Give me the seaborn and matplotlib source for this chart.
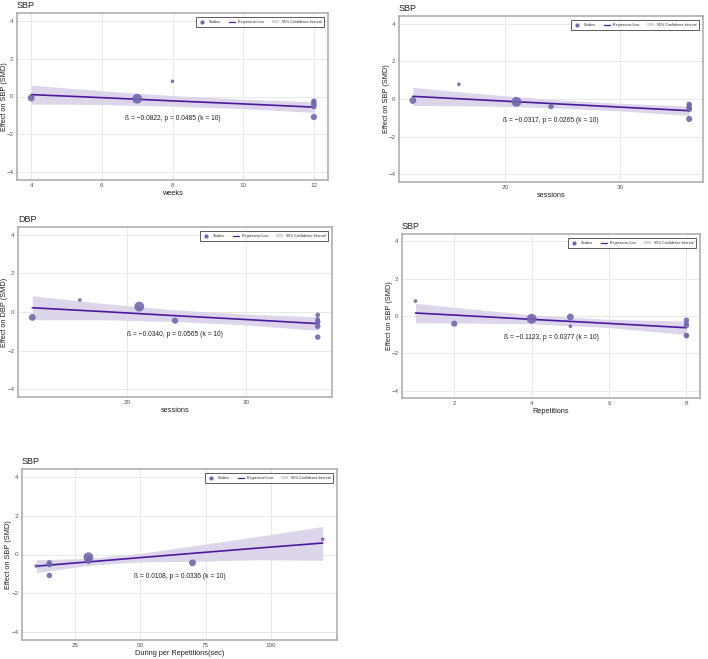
"""
Meta-regression panels: effect on blood pressure vs. training parameters
"""
import matplotlib
matplotlib.use("Agg")
import matplotlib.pyplot as plt
from matplotlib.lines import Line2D
from matplotlib.patches import Patch
import pandas as pd
import seaborn as sns

# ---------------------------------------------------------------------------
# data
# ---------------------------------------------------------------------------
# panel 1: weeks (SBP)
weeks_x = [4, 7, 8, 12, 12, 12, 12, 12, 12, 12]
weeks_y = [-0.08, -0.12, 0.80, -0.25, -0.32, -0.40, -0.45, -0.50, -0.55, -1.08]
weeks_w = [3, 6, 1, 2, 1.5, 2, 1.5, 2, 1.5, 2.5]
weeks_ci_x = [4, 6, 8, 10, 12]
weeks_fit = [0.10, -0.06, -0.23, -0.39, -0.56]
weeks_lo = [-0.40, -0.42, -0.51, -0.64, -0.84]
weeks_hi = [0.60, 0.30, 0.05, -0.14, -0.28]

# panel 2: sessions (SBP)
sess_x = [12, 16, 21, 24, 36, 36, 36, 36, 36, 36]
sess_y = [-0.08, 0.78, -0.15, -0.40, -0.28, -0.35, -0.45, -0.50, -0.55, -1.06]
sess_w = [3, 1, 6, 2, 2, 1.5, 2, 1.5, 2, 2.5]
sess_ci_x = [12, 18, 24, 30, 36]
sess_fit = [0.14, -0.05, -0.24, -0.43, -0.62]
sess_lo = [-0.34, -0.37, -0.46, -0.63, -0.87]
sess_hi = [0.62, 0.27, -0.02, -0.23, -0.37]

# panel 3: sessions (DBP)
dbp_x = [12, 16, 21, 24, 36, 36, 36, 36, 36, 36]
dbp_y = [-0.28, 0.62, 0.28, -0.45, -0.15, -0.38, -0.50, -0.60, -0.75, -1.30]
dbp_w = [3, 1, 6, 2.5, 1.5, 1.5, 2, 1.5, 2, 2]
dbp_ci_x = [12, 18, 24, 30, 36]
dbp_fit = [0.22, 0.02, -0.19, -0.39, -0.60]
dbp_lo = [-0.40, -0.40, -0.49, -0.67, -0.95]
dbp_hi = [0.84, 0.44, 0.11, -0.11, -0.25]

# panel 4: repetitions (SBP)
reps_x = [1, 2, 4, 5, 5, 8, 8, 8, 8, 8]
reps_y = [0.80, -0.41, -0.15, -0.05, -0.55, -0.23, -0.40, -0.50, -1.04, -1.08]
reps_w = [1, 2.5, 6, 3, 1, 2, 1.5, 2, 2, 1.5]
reps_ci_x = [1, 2, 4, 6, 8]
reps_fit = [0.16, 0.05, -0.18, -0.40, -0.63]
reps_lo = [-0.36, -0.37, -0.42, -0.62, -0.99]
reps_hi = [0.68, 0.47, 0.06, -0.18, -0.27]

# panel 5: duration per repetition (SBP)
dur_x = [10, 15, 15, 15, 30, 30, 30, 30, 70, 120]
dur_y = [-0.59, -0.43, -0.52, -1.08, -0.14, -0.22, -0.30, -0.35, -0.43, 0.78]
dur_w = [1, 2, 2, 2, 6, 2, 2, 2, 3, 1]
dur_ci_x = [10, 30, 50, 70, 95, 120]
dur_fit = [-0.60, -0.38, -0.16, 0.06, 0.33, 0.59]
dur_lo = [-0.93, -0.56, -0.38, -0.35, -0.27, -0.30]
dur_hi = [-0.27, -0.20, 0.06, 0.44, 0.93, 1.44]

betas = [-0.0822, -0.0317, -0.0340, -0.1123, 0.0108]
pvals = [0.0485, 0.0265, 0.0565, 0.0377, 0.0336]
k_studies = 10

POINT_C = "#6f68ad"
LINE_C = "#4b1a9c"
BAND_C = "#ddd5ea"

sns.set_theme(style="whitegrid")
plt.rcParams["font.family"] = ["Liberation Sans", "DejaVu Sans"]
plt.rcParams["axes.unicode_minus"] = True

W, H = 708, 659


def draw_panel(ax, x, y, w, ci_x, fit, lo, hi, title, xlabel, ylabel, beta, p):
    df = pd.DataFrame({"x": x, "y": y, "w": w})
    ax.fill_between(ci_x, lo, hi, color=BAND_C, lw=0, zorder=1)
    sns.lineplot(x=ci_x, y=fit, ax=ax, color=LINE_C, lw=1.2, zorder=2)
    sns.scatterplot(data=df, x="x", y="y", size="w", sizes=(7, 50),
                    size_norm=(1, 6), color=POINT_C, alpha=0.9,
                    edgecolor="none", legend=False, ax=ax, zorder=3)

    ax.set_ylim(-4.4, 4.4)
    ax.set_yticks([-4, -2, 0, 2, 4])
    ax.tick_params(labelsize=4.5, colors="#555555", pad=2.5, length=0)
    ax.grid(color="#e8e8e8", lw=0.7)
    for s in ax.spines.values():
        s.set_color("#a8a8a8")
        s.set_linewidth(1.1)

    # axes size in pixels, to place labels at fixed pixel offsets
    bb = ax.get_position()
    wpx, hpx = bb.width * W, bb.height * H

    ax.set_title(title, loc="left", fontsize=6.5, pad=3.8, color="#222222")
    ax.set_xlabel(xlabel, fontsize=5.3, color="#222222", va="center")
    ax.set_ylabel(ylabel, fontsize=5.3, color="#222222", va="center")
    ax.xaxis.set_label_coords(0.5, -13.5 / hpx)
    ax.yaxis.set_label_coords(-13 / wpx, 0.5)

    txt = f"ß = {beta:.4f}, p = {p:.4f} (k = {k_studies})".replace("-", "\u2212")
    ax.text(0.5, 0.37, txt, transform=ax.transAxes, ha="center", va="center",
            fontsize=4.75, color="#222222")

    handles = [
        Line2D([], [], marker="o", ls="none", color=POINT_C, markersize=2),
        Line2D([], [], color=LINE_C, lw=0.9),
        Patch(facecolor=BAND_C, edgecolor="none"),
    ]
    leg = ax.legend(handles, ["Studies", "Regression Line", "95% Confidence Interval"],
                    loc="upper right", ncol=3, fontsize=2.6, frameon=True,
                    fancybox=False, handlelength=1.8, handletextpad=0.8,
                    columnspacing=2.2, borderpad=0.9, borderaxespad=1.0)
    leg.get_frame().set_edgecolor("#333333")
    leg.get_frame().set_linewidth(0.7)


fig = plt.figure(figsize=(W / 100, H / 100), dpi=100)
fig.patch.set_facecolor("white")


def box(left, top, right, bottom):
    return [left / W, 1 - bottom / H, (right - left) / W, (bottom - top) / H]


ax1 = fig.add_axes(box(17, 13, 328, 180))
ax2 = fig.add_axes(box(399, 16, 703, 182))
ax3 = fig.add_axes(box(18, 227, 332, 397))
ax4 = fig.add_axes(box(402, 234, 700, 398))
ax5 = fig.add_axes(box(22, 469, 337, 640))

draw_panel(ax1, weeks_x, weeks_y, weeks_w, weeks_ci_x, weeks_fit, weeks_lo, weeks_hi,
           "SBP", "weeks", "Effect on SBP (SMD)", betas[0], pvals[0])
draw_panel(ax2, sess_x, sess_y, sess_w, sess_ci_x, sess_fit, sess_lo, sess_hi,
           "SBP", "sessions", "Effect on SBP (SMD)", betas[1], pvals[1])
draw_panel(ax3, dbp_x, dbp_y, dbp_w, dbp_ci_x, dbp_fit, dbp_lo, dbp_hi,
           "DBP", "sessions", "Effect on DBP (SMD)", betas[2], pvals[2])
draw_panel(ax4, reps_x, reps_y, reps_w, reps_ci_x, reps_fit, reps_lo, reps_hi,
           "SBP", "Repetitions", "Effect on SBP (SMD)", betas[3], pvals[3])
draw_panel(ax5, dur_x, dur_y, dur_w, dur_ci_x, dur_fit, dur_lo, dur_hi,
           "SBP", "During per Repetitions(sec)", "Effect on SBP (SMD)", betas[4], pvals[4])

ax1.set_xticks([4, 6, 8, 10, 12])
ax2.set_xticks([20, 30])
ax3.set_xticks([20, 30])
ax4.set_xticks([2, 4, 6, 8])
ax5.set_xticks([25, 50, 75, 100])

fig.savefig("out.png", dpi=100, facecolor="white")
